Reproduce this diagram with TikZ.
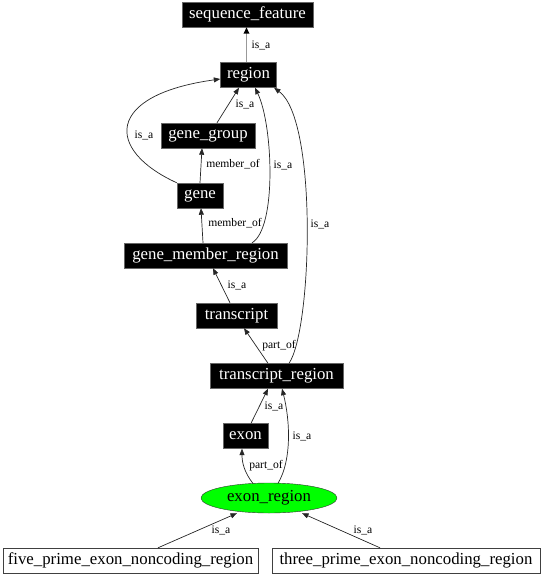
\documentclass[tikz,border=0pt]{standalone}
\usepackage{fontspec}
\setmainfont{Liberation Serif}
\usetikzlibrary{arrows.meta,shapes.geometric}
\tikzset{
  blk/.style={rectangle, fill=black, draw=black!60, text=white, inner sep=0pt,
    font=\fontsize{16.8}{19}\selectfont, minimum height=25pt},
  wht/.style={rectangle, fill=white, draw=black!75, text=black, inner sep=0pt,
    font=\fontsize{16.8}{19}\selectfont, minimum height=25pt},
  grn/.style={ellipse, fill=green, draw=black!80, inner sep=0pt,
    font=\fontsize{16.8}{19}\selectfont},
  edge/.style={draw=black!85, line width=0.7pt, -{Triangle[length=6.5pt,width=5pt]}},
  gedge/.style={draw=black!40, line width=1.6pt, -{Triangle[length=6.5pt,width=5.5pt,color=black]}},
  lbl/.style={font=\fontsize{11.6}{13}\selectfont, inner sep=0pt, text=black}
}
\begin{document}
\begin{tikzpicture}[x=1pt,y=-1pt]
\useasboundingbox (0,0) rectangle (545,576);
% nodes
\node[blk, minimum width=131pt] (sf) at (247.5,14.5) {sequence\_feature};
\node[blk, minimum width=56pt] (region) at (248.5,75) {region};
\node[blk, minimum width=94pt] (gg) at (208,135.5) {gene\_group};
\node[blk, minimum width=46pt] (gene) at (200,195.5) {gene};
\node[blk, minimum width=163pt] (gmr) at (205.5,255.5) {gene\_member\_region};
\node[blk, minimum width=81pt] (transcript) at (236.5,315.5) {transcript};
\node[blk, minimum width=133pt] (tr) at (276.5,376) {transcript\_region};
\node[blk, minimum width=45pt] (exon) at (245.5,436) {exon};
\node[grn, minimum width=136pt, minimum height=30pt] (er) at (269,498) {exon\_region};
\node[wht, minimum width=255pt] (five) at (130.5,560.5) {five\_prime\_exon\_noncoding\_region};
\node[wht, minimum width=268pt] (three) at (406,560.5) {three\_prime\_exon\_noncoding\_region};
% edges
\draw[gedge] (region.north -| sf.south) ++(-1,0) coordinate (rt) -- (sf.south -| rt);
\node[lbl] (l1) at (261,45) {is\_a};

\draw[edge] (gg.north -| 217,0) -- (region.south -| 239,0);
\node[lbl] (l2) at (245,104) {is\_a};

\draw[edge] (gene.north west) .. controls (105,150) and (105,95) .. (region.west |- 0,79);
\node[lbl] (l3) at (144,135) {is\_a};

\draw[edge] (gene.north) -- (gg.south -| 202,0);
\node[lbl] (l4) at (233,164) {member\_of};

\draw[edge] (gmr.north -| 252,0) .. controls (277,228) and (273,125) .. (region.south -| 255,0);
\node[lbl] (l5) at (283,165) {is\_a};

\draw[edge] (gmr.north -| 203,0) -- (gene.south -| 201,0);
\node[lbl] (l6) at (235,223) {member\_of};

\draw[edge] (transcript.north -| 230,0) -- (gmr.south -| 213,0);
\node[lbl] (l7) at (237,285) {is\_a};

\draw[edge] (tr.north -| 268,0) -- (transcript.south -| 244,0);
\node[lbl] (l8) at (279,346) {part\_of};

\draw[edge] (tr.north -| 289,0) .. controls (312,330) and (318,120) .. (region.south -| 274,0);
\node[lbl] (l9) at (320,224) {is\_a};

\draw[edge] (exon.north -| 251,0) -- (tr.south -| 268,0);
\node[lbl] (l10) at (274,406) {is\_a};

\draw[edge] (er.north -| 278,0) ++(0,0.5) .. controls (292,460) and (290,420) .. (tr.south -| 282,0);
\node[lbl] (l11) at (302,436) {is\_a};

\draw[edge] (er.north -| 253,0) ++(0,0.7) .. controls (244,472) and (242,462) .. (exon.south -| 242,0);
\node[lbl] (l12) at (266,466) {part\_of};

\draw[edge] (five.north -| 158,0) -- (er.south -| 237,0);
\node[lbl] (l13) at (221,530) {is\_a};

\draw[edge] (three.north -| 380,0) -- (er.south -| 302,0);
\node[lbl] (l14) at (363,530) {is\_a};
\end{tikzpicture}
\end{document}
